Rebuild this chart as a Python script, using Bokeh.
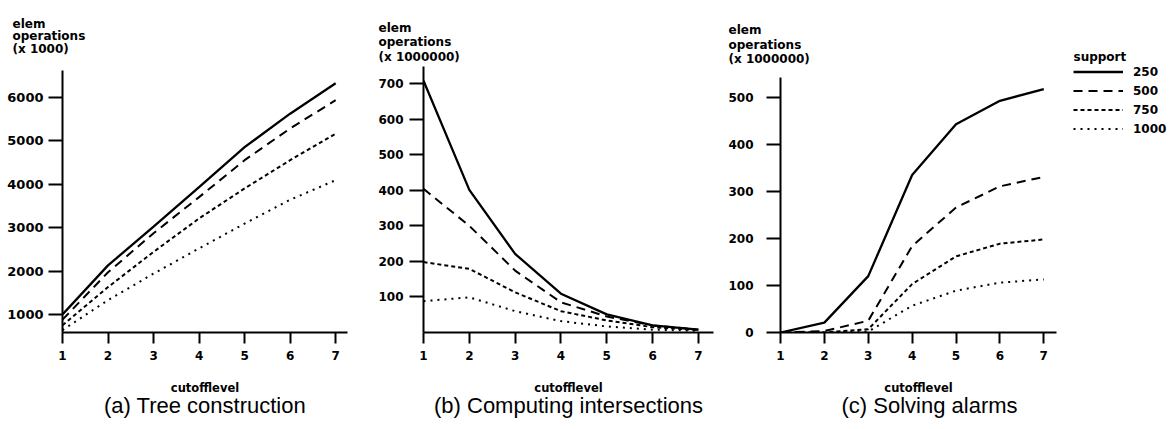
from bokeh.plotting import figure
from bokeh.models import Range1d, FixedTicker, Title, Legend, LegendItem
from bokeh.layouts import row
from bokeh.embed import file_html
from bokeh.resources import INLINE

# ---------------- data ----------------
cutofflevel = [1, 2, 3, 4, 5, 6, 7]
supports = ["250", "500", "750", "1000"]

# (a) Tree construction, elem operations (x 1000)
tree_250 = [1000, 2130, 3020, 3930, 4850, 5620, 6320]
tree_500 = [880, 1970, 2870, 3700, 4550, 5280, 5930]
tree_750 = [750, 1630, 2440, 3210, 3900, 4550, 5160]
tree_1000 = [640, 1330, 1940, 2520, 3090, 3640, 4090]

# (b) Computing intersections, elem operations (x 1000000)
inter_250 = [708, 401, 221, 109, 51, 20, 8]
inter_500 = [404, 300, 174, 85, 45, 20, 8]
inter_750 = [198, 179, 113, 60, 34, 15, 7]
inter_1000 = [88, 99, 60, 32, 17, 8, 5]

# (c) Solving alarms, elem operations (x 1000000)
alarm_250 = [0, 21, 120, 335, 443, 493, 518]
alarm_500 = [0, 3, 25, 184, 266, 311, 331]
alarm_750 = [0, 0, 7, 103, 162, 189, 198]
alarm_1000 = [0, 0, 2, 57, 89, 106, 113]

ticks_a = [1000, 2000, 3000, 4000, 5000, 6000]
ticks_b = [100, 200, 300, 400, 500, 600, 700]
ticks_c = [0, 100, 200, 300, 400, 500]

dashes = ["solid", "9 6", "4 3", "2 5"]
widths = [2.3, 2, 2, 2]

BOLD = "DejaVu Sans"
REG = "Liberation Sans"
H = 429
TOP = 66
BOTTOM = 97


def make_panel(width, xr, yr, ybounds, bl, br, yticks, ytick_size, ystandoff,
               title, title_align, title_off, ylab, ylab_off, ylab_lh, ylab_standoff):
    p = figure(width=width, height=H, output_backend="svg", toolbar_location=None,
               x_range=Range1d(*xr), y_range=Range1d(*yr),
               min_border_left=bl, min_border_right=br,
               min_border_top=TOP, min_border_bottom=BOTTOM, title=None)
    p.outline_line_color = None
    p.grid.visible = False
    p.background_fill_color = "white"
    p.border_fill_color = "white"

    for ax in (p.xaxis, p.yaxis):
        ax.axis_line_width = 2
        ax.axis_line_color = "black"
        ax.major_tick_line_width = 2
        ax.major_tick_line_color = "black"
        ax.major_tick_in = 0
        ax.minor_tick_line_color = None
        ax.major_label_text_font = BOLD
        ax.major_label_text_font_style = "bold"
        ax.major_label_text_color = "black"

    p.xaxis.ticker = FixedTicker(ticks=cutofflevel)
    p.xaxis.major_tick_out = 11
    p.xaxis.major_label_text_font_size = "12px"
    p.xaxis.major_label_standoff = 7
    p.xaxis.axis_label = "cutofflevel"
    p.xaxis.axis_label_text_font = BOLD
    p.xaxis.axis_label_text_font_style = "bold"
    p.xaxis.axis_label_text_font_size = "11.5px"
    p.xaxis.axis_label_text_color = "black"
    p.xaxis.axis_label_standoff = 18

    p.yaxis.ticker = FixedTicker(ticks=yticks)
    p.yaxis.major_tick_out = 14
    p.yaxis.major_label_text_font_size = ytick_size
    p.yaxis.major_label_standoff = ystandoff
    p.yaxis.bounds = ybounds

    p.add_layout(Title(text=title, align=title_align, offset=title_off, text_font=REG,
                       text_font_size="22px", text_font_style="normal",
                       text_color="black", standoff=-13), "below")

    # y-axis caption above the axis
    p.add_layout(Title(text=ylab, align="left", offset=ylab_off, text_font=BOLD,
                       text_font_style="bold", text_font_size="12px",
                       text_line_height=ylab_lh, text_color="black",
                       standoff=ylab_standoff), "above")
    return p


pa = make_panel(357, (1, 7.26), (585, 6706), (585, 6622), 62, 10,
                ticks_a, "13px", 5, "(a) Tree construction", "center", 0,
                "elem\noperations\n(x 1000)", -50, 0.9, 21)
for ys, d, w in zip([tree_250, tree_500, tree_750, tree_1000], dashes, widths):
    pa.line(cutofflevel, ys, line_color="black", line_width=w, line_dash=d)

pb = make_panel(368, (1, 7.33), (0, 748), (0, 748), 66, 12,
                ticks_b, "12px", 6, "(b) Computing intersections", "center", 0,
                "elem\noperations\n(x 1000000)", -45, 1.05, 5)
for ys, d, w in zip([inter_250, inter_500, inter_750, inter_1000], dashes, widths):
    pb.line(cutofflevel, ys, line_color="black", line_width=w, line_dash=d)

pc = make_panel(336, (1, 7.29), (0, 566), (0, 543), 52, 5,
                ticks_c, "12px", 13, "(c) Solving alarms", "left", 61,
                "elem\noperations\n(x 1000000)", -52, 1.05, 0)
for ys, d, w in zip([alarm_250, alarm_500, alarm_750, alarm_1000], dashes, widths):
    pc.line(cutofflevel, ys, line_color="black", line_width=w, line_dash=d)

# legend panel: proxy lines (outside the visible range) carry the series styles
pl = figure(width=111, height=H, output_backend="svg", toolbar_location=None,
            x_axis_type=None, y_axis_type=None,
            min_border_left=0, min_border_right=0,
            min_border_top=TOP, min_border_bottom=BOTTOM,
            x_range=Range1d(100, 101), y_range=Range1d(0, 1))
pl.outline_line_color = None
pl.grid.visible = False
pl.add_layout(Title(text="support", align="left", offset=12, text_font=BOLD,
                    text_font_style="bold", text_font_size="12px",
                    text_color="black", standoff=6), "above")
proxies = [pl.line(cutofflevel, ys, line_color="black", line_width=w, line_dash=d)
           for ys, d, w in zip([alarm_250, alarm_500, alarm_750, alarm_1000], dashes, widths)]
legend = Legend(items=[LegendItem(label=s, renderers=[r]) for s, r in zip(supports, proxies)],
                location=(12, 196))
legend.margin = 0
legend.padding = 0
legend.border_line_color = None
legend.background_fill_alpha = 0
legend.label_text_font = BOLD
legend.label_text_font_style = "bold"
legend.label_text_font_size = "12px"
legend.label_text_color = "black"
legend.glyph_width = 50
legend.glyph_height = 15
legend.label_height = 15
legend.label_standoff = 10
legend.spacing = 4
pl.add_layout(legend, "center")

layout = row(pa, pb, pc, pl)
open("out.html", "w").write(file_html(layout, INLINE))
